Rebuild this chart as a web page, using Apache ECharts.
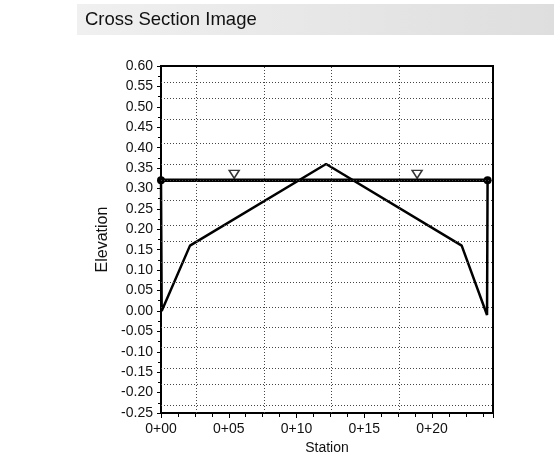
<!DOCTYPE html>
<html>
<head>
<meta charset="utf-8">
<script src="https://cdn.jsdelivr.net/npm/echarts@6/dist/echarts.min.js"></script>
<style>
  html, body { margin: 0; padding: 0; background: #fff; }
  #chart { width: 554px; height: 464px; }
</style>
</head>
<body>
<div id="chart"></div>
<script>
(function() {
  'use strict';

  // ground profile (station, elevation)
  var profile = [
    [0.0, 0.32], [0.05, 0.0], [2.14, 0.16], [12.18, 0.36],
    [22.19, 0.16], [24.06, -0.01], [24.1, 0.32]
  ];
  // water surface ends and the two water symbols
  var waterLine = [[0.0, 0.32], [24.1, 0.32]];
  var waterMarks = [[5.4, 0.32], [18.9, 0.32]];
  // grid as drawn in the source (offset from the labels)
  var vGrid = [2.6, 7.6, 12.6, 17.6];
  var hGrid = [0.565, 0.515, 0.465, 0.415, 0.365, 0.315, 0.265, 0.215, 0.165,
    0.115, 0.065, 0.015, -0.035, -0.085, -0.135, -0.185, -0.235];
  var stationLabels = ['0+00', '0+05', '0+10', '0+15', '0+20'];

  var font = 'Liberation Sans, Arial, sans-serif';
  var ink = '#111';

  var chart = echarts.init(document.getElementById('chart'), null, { renderer: 'canvas' });

  var gridMarks = [];
  vGrid.forEach(function(v) { gridMarks.push({ xAxis: v }); });
  hGrid.forEach(function(v) { gridMarks.push({ yAxis: v }); });

  var option = {
    animation: false,
    backgroundColor: '#fff',
    graphic: [{
      type: 'rect',
      left: 77,
      top: 4,
      shape: { width: 477, height: 31 },
      style: {
        fill: new echarts.graphic.LinearGradient(0, 0, 1, 0, [
          { offset: 0, color: '#f0f0f0' },
          { offset: 1, color: '#dedede' }
        ])
      },
      z: -1
    }],
    title: {
      text: 'Cross Section Image',
      left: 85,
      top: 10,
      padding: 0,
      textStyle: { fontFamily: font, fontSize: 18.5, fontWeight: 'normal', color: ink }
    },
    grid: {
      left: 161,
      top: 66,
      width: 332,
      height: 347,
      show: true,
      backgroundColor: '#fff',
      borderColor: '#000',
      borderWidth: 2,
      z: -2
    },
    xAxis: {
      type: 'value',
      min: 0,
      max: 24.5,
      interval: 5,
      name: 'Station',
      nameLocation: 'middle',
      nameGap: 28,
      nameTextStyle: { fontFamily: font, fontSize: 14, color: ink },
      axisLine: { show: true, onZero: false, lineStyle: { color: '#000', width: 2 } },
      axisTick: { show: true, inside: false, length: 5, lineStyle: { color: '#000', width: 1 } },
      minorTick: { show: true, splitNumber: 4, length: 4, lineStyle: { color: '#000', width: 1 } },
      splitLine: { show: false },
      axisLabel: {
        margin: 9,
        showMaxLabel: false,
        fontFamily: font, fontSize: 14, color: ink,
        formatter: function(v) {
          var i = Math.round(v / 5);
          return Math.abs(v - i * 5) < 1e-6 && stationLabels[i] ? stationLabels[i] : '';
        }
      }
    },
    yAxis: {
      type: 'value',
      min: -0.25,
      max: 0.6,
      interval: 0.05,
      name: 'Elevation',
      nameLocation: 'middle',
      nameGap: 50,
      nameTextStyle: { fontFamily: font, fontSize: 16, color: ink },
      axisLine: { show: true, onZero: false, lineStyle: { color: '#000', width: 2 } },
      axisTick: { show: true, inside: false, length: 4, lineStyle: { color: '#000', width: 1 } },
      minorTick: { show: true, splitNumber: 2, length: 3, lineStyle: { color: '#000', width: 1 } },
      splitLine: { show: false },
      axisLabel: {
        margin: 8,
        fontFamily: font, fontSize: 14, color: ink,
        formatter: function(v) {
          if (Math.abs(v) < 1e-9) return '0.00';
          return v.toFixed(2);
        }
      }
    },
    series: [
      {
        name: 'grid',
        type: 'line',
        data: [],
        z: 1,
        silent: true,
        markLine: {
          silent: true,
          symbol: ['none', 'none'],
          label: { show: false },
          lineStyle: { color: '#444', width: 1, type: [1, 2] },
          data: gridMarks
        }
      },
      {
        name: 'ground',
        type: 'line',
        data: profile,
        z: 3,
        showSymbol: false,
        lineStyle: { color: '#000', width: 2.5 }
      },
      {
        name: 'water',
        type: 'line',
        data: waterLine,
        z: 4,
        symbol: 'circle',
        symbolSize: 8,
        itemStyle: { color: '#000' },
        lineStyle: { color: '#000', width: 3.5 }
      },
      {
        name: 'waterMark',
        type: 'scatter',
        data: waterMarks,
        z: 5,
        symbol: 'triangle',
        symbolRotate: 180,
        symbolSize: [10, 8],
        symbolOffset: [0, -6],
        itemStyle: { color: '#fff', borderColor: '#000', borderWidth: 1.5 }
      }
    ]
  };

  chart.setOption(option);
})();
</script>
</body>
</html>
